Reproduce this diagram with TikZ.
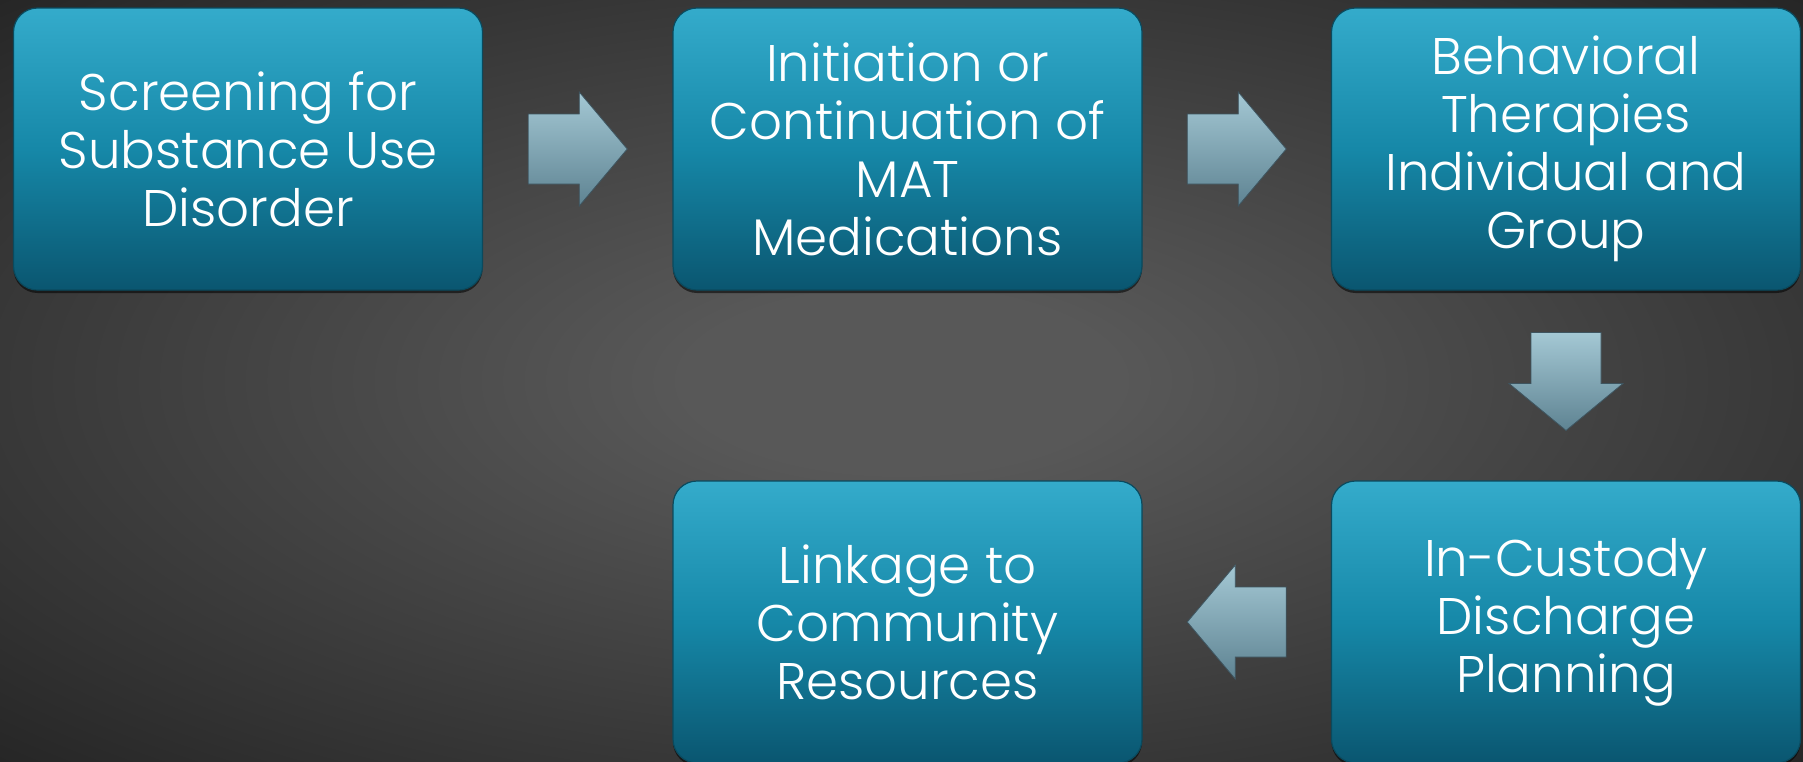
\documentclass[tikz,border=0pt]{standalone}
\usepackage{fontspec}
\setmainfont{Poppins}[UprightFont={* Light}]
\usetikzlibrary{calc,shadows}
\definecolor{boxtop}{HTML}{34ABCB}
\definecolor{boxmid}{HTML}{1688A8}
\definecolor{boxbot}{HTML}{0A5670}
\definecolor{boxedge}{HTML}{0A4A5E}
\definecolor{arrtop}{HTML}{A4C8D4}
\definecolor{arrbot}{HTML}{5E8392}
\definecolor{arredge}{HTML}{3E5560}
\definecolor{bgin}{HTML}{585858}
\definecolor{bgmid}{HTML}{333333}
\definecolor{bgout}{HTML}{1E1E1E}
\pgfdeclareradialshading{bgshade}{\pgfpoint{0bp}{0bp}}{color(0bp)=(bgin); color(6bp)=(bgin); color(28bp)=(bgmid); color(40bp)=(bgout); color(50bp)=(bgout)}
\tikzset{
  stepbox/.style={rounded corners=24pt, minimum width=469pt, minimum height=282pt,
    draw=boxedge, line width=1.2pt, top color=boxtop, bottom color=boxbot, middle color=boxmid,
    text=white, align=center, font=\fontsize{51.5}{58}\selectfont, inner sep=0pt,
    drop shadow={shadow xshift=0pt, shadow yshift=-3pt, opacity=0.55, fill=black}},
  blockarrow/.style={draw=arredge, line width=0.8pt, top color=arrtop, bottom color=arrbot}
}
\begin{document}
\begin{tikzpicture}[x=1pt,y=-1pt]
\useasboundingbox (0,0) rectangle (1803,761);
\clip (0,0) rectangle (1803,761);
\shade[shading=bgshade] (0,0) rectangle (1803,761);
\node[stepbox] (b1) at (248,149) {Screening for\\Substance Use\\Disorder};
\node[stepbox] (b2) at (907.5,149) {Initiation or\\Continuation of\\MAT\\Medications};
\node[stepbox] (b3) at (1566,149) {Behavioral\\Therapies\\Individual and\\Group};
\node[stepbox] (b4) at (907.5,622) {Linkage to\\Community\\Resources};
\node[stepbox] (b5) at (1566,622) {In-Custody\\Discharge\\Planning};
\coordinate (a1) at ($(b1.east)!0.5!(b2.west)$);
\coordinate (a2) at ($(b2.east)!0.5!(b3.west)$);
\coordinate (a3) at ($(b3.south)!0.5!(b5.north)$);
\coordinate (a4) at ($(b5.west)!0.5!(b4.east)$);
\draw[blockarrow] ($(a1)+(-49.5,-35)$) -- ++(51,0) -- ++(0,-22) -- ++(48,57) -- ++(-48,57) -- ++(0,-22) -- ++(-51,0) -- cycle;
\draw[blockarrow] ($(a2)+(-49.5,-35)$) -- ++(51,0) -- ++(0,-22) -- ++(48,57) -- ++(-48,57) -- ++(0,-22) -- ++(-51,0) -- cycle;
\draw[blockarrow] ($(a3)+(-35,-53)$) -- ++(70,0) -- ++(0,51) -- ++(22,0) -- ++(-57,47) -- ++(-57,-47) -- ++(22,0) -- cycle;
\draw[blockarrow] ($(a4)+(49.5,-35)$) -- ++(-51,0) -- ++(0,-22) -- ++(-48,57) -- ++(48,57) -- ++(0,-22) -- ++(51,0) -- cycle;
\end{tikzpicture}
\end{document}
